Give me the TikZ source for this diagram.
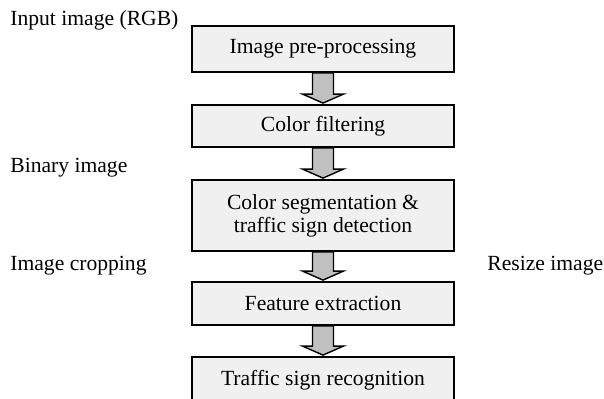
\documentclass[tikz,border=0pt]{standalone}
\usepackage{fontspec}
\setmainfont{Liberation Serif}
\usetikzlibrary{calc}
\definecolor{boxgray}{RGB}{240,240,240}
\definecolor{arrowgray}{RGB}{192,192,192}

\begin{document}
\begin{tikzpicture}[x=0.5pt,y=-0.5pt,
    stage/.style={draw=black, line width=0.9pt, fill=boxgray, minimum width=131pt,
      inner sep=0pt, align=center, font=\fontsize{10.8}{11.5}\selectfont},
    note/.style={inner sep=0pt, anchor=west, font=\fontsize{10.8}{13}\selectfont},
    blockarrow/.style={draw=black, line width=0.7pt, fill=arrowgray, line join=miter}]
        \useasboundingbox (0,0) rectangle (604,399);
        % Stages
        \node[stage, minimum height=23pt] (pre) at (323,49) {Image pre-processing};
        \node[stage, minimum height=21pt] (filt) at (323,126) {Color filtering};
        \node[stage, minimum height=35.5pt] (seg) at (323,215.5) {Color segmentation \&\\traffic sign detection};
        \node[stage, minimum height=21.5pt] (feat) at (323,303.5) {Feature extraction};
        \node[stage, minimum height=23pt] (recog) at (323,380) {Traffic sign recognition};
        % Side notes
        \node[note] (input) at (10,20) {Input image (RGB)};
        \node[note] (binary) at (10,168) {Binary image};
        \node[note] (crop) at (10,266) {Image cropping};
        \node[note] (resize) at (487,266) {Resize image};
        % Block arrows between stages
        \foreach \a/\b in {pre/filt, filt/seg, seg/feat, feat/recog} {
          \draw[blockarrow] ($(\a.south)+(-10.5,0)$) -- ($(\b.north)+(-10.5,-10)$)
            -- ($(\b.north)+(-20.5,-10)$) -- ($(\b.north)+(0,-1)$)
            -- ($(\b.north)+(20.5,-10)$) -- ($(\b.north)+(10.5,-10)$)
            -- ($(\a.south)+(10.5,0)$) -- cycle;
        }
\end{tikzpicture}
\end{document}
